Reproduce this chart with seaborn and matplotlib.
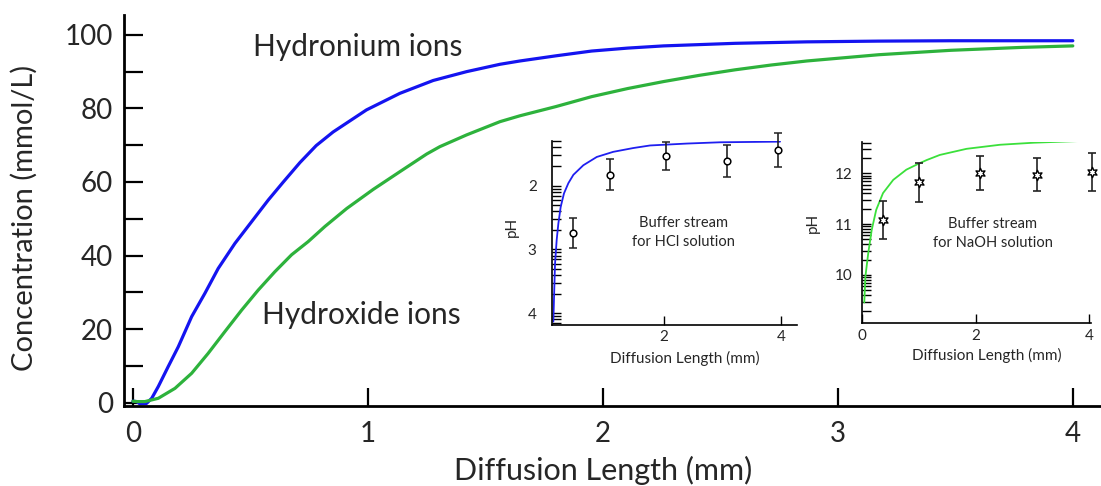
import numpy as np
import pandas as pd
import matplotlib
matplotlib.use("Agg")
import matplotlib.pyplot as plt
from matplotlib.ticker import FixedLocator, NullFormatter
import seaborn as sns

# ---- main panel: concentration profiles across the channel ----
h3o_len = [0.0, 0.017, 0.030, 0.058, 0.080, 0.108, 0.150, 0.193, 0.250, 0.306,
           0.363, 0.434, 0.505, 0.576, 0.640, 0.711, 0.780, 0.852, 0.994, 1.136,
           1.278, 1.420, 1.562, 1.647, 1.800, 1.952, 2.105, 2.258, 2.563, 2.868,
           3.174, 3.480, 4.0]
hydronium = [0.4, 0.3, -0.35, -0.2, 1.2, 4.4, 9.8, 15.2, 23.4, 29.7,
             36.5, 43.3, 49.2, 55.1, 60.0, 65.3, 69.9, 73.6, 79.6, 84.1,
             87.6, 90.0, 92.0, 92.9, 94.3, 95.6, 96.4, 97.0, 97.7, 98.1,
             98.3, 98.4, 98.4]

oh_len = [0.0, 0.017, 0.051, 0.108, 0.179, 0.250, 0.320, 0.391, 0.463, 0.533,
          0.604, 0.675, 0.746, 0.817, 0.910, 1.023, 1.136, 1.250, 1.306, 1.420,
          1.562, 1.647, 1.800, 1.952, 2.105, 2.258, 2.411, 2.563, 2.716, 2.868,
          3.174, 3.480, 3.785, 4.0]
hydroxide = [0.4, 0.3, 0.3, 1.2, 3.9, 8.0, 13.4, 19.3, 25.2, 30.6,
             35.6, 40.2, 43.8, 47.9, 52.8, 58.0, 62.8, 67.6, 69.6, 72.8,
             76.4, 78.0, 80.5, 83.2, 85.4, 87.3, 89.0, 90.5, 91.8, 92.9,
             94.6, 95.8, 96.6, 97.0]

# ---- inset 1: pH of buffer stream next to HCl ----
hcl_len = [0.108, 0.12, 0.137, 0.165, 0.194, 0.234, 0.29, 0.365, 0.45, 0.62,
           0.85, 1.13, 1.475, 1.76, 2.39, 2.96, 3.98]
hcl_ph = [4.13, 3.74, 3.22, 2.85, 2.59, 2.33, 2.12, 1.96, 1.83, 1.68,
          1.55, 1.47, 1.41, 1.37, 1.34, 1.32, 1.31]
hcl_meas_len = [0.44, 1.08, 2.03, 3.08, 3.94]
hcl_meas_ph = [2.74, 1.83, 1.53, 1.62, 1.44]
hcl_meas_err = [0.235, 0.245, 0.22, 0.25, 0.265]

# ---- inset 2: pH of buffer stream next to NaOH ----
naoh_len = [0.04, 0.06, 0.11, 0.17, 0.25, 0.37, 0.55, 0.78, 1.0, 1.14, 1.37,
            1.84, 2.43, 3.02, 3.99]
naoh_ph = [9.46, 9.97, 10.43, 10.88, 11.28, 11.61, 11.87, 12.07, 12.19, 12.26, 12.36,
           12.48, 12.56, 12.60, 12.64]
naoh_meas_len = [0.37, 1.00, 2.08, 3.08, 4.04]
naoh_meas_ph = [11.08, 11.82, 12.00, 11.97, 12.03]
naoh_meas_err = [0.38, 0.39, 0.33, 0.32, 0.37]

main_xticks = [0, 1, 2, 3, 4]
main_yticks = [0, 20, 40, 60, 80, 100]

sns.set_theme(style="white")
plt.rcParams["font.family"] = ["Lato", "DejaVu Sans"]

fig = plt.figure(figsize=(11.01, 4.86), dpi=100)

# main axes
ax = fig.add_axes([124 / 1101, 80 / 486, 977 / 1101, 391 / 486])
h3o_df = pd.DataFrame({"length": h3o_len, "conc": hydronium})
oh_df = pd.DataFrame({"length": oh_len, "conc": hydroxide})
sns.lineplot(data=h3o_df, x="length", y="conc", ax=ax, color="#1414f0", lw=2.3)
sns.lineplot(data=oh_df, x="length", y="conc", ax=ax, color="#2db23c", lw=2.3)

ax.set_xlim(-0.038, 4.12)
ax.set_ylim(-0.9, 105.4)
ax.set_xticks(main_xticks)
ax.set_yticks(main_yticks)
ax.yaxis.set_minor_locator(FixedLocator([10, 30, 50, 70, 90]))
for side in ("top", "right"):
    ax.spines[side].set_visible(False)
for side in ("left", "bottom"):
    ax.spines[side].set_linewidth(2.0)
    ax.spines[side].set_color("black")
ax.tick_params(axis="y", which="both", direction="in", length=14, width=1.6,
               color="black", labelsize=20, pad=8, left=True)
ax.tick_params(axis="x", which="major", direction="in", length=13, width=1.6,
               color="black", labelsize=20, pad=11, bottom=True)
ax.set_xlabel("Diffusion Length (mm)", fontsize=22)
ax.set_ylabel("Concentration (mmol/L)", fontsize=21)
ax.xaxis.set_label_coords(0.49, -0.128)
ax.yaxis.set_label_coords(-0.088, 0.48)
ax.text(0.51, 96.7, "Hydronium ions", fontsize=21.5, ha="left", va="center")
ax.text(0.549, 23.8, "Hydroxide ions", fontsize=21.5, ha="left", va="center")


def style_inset(a, xlabel_xy, ylabel_xy, ypad):
    for side in ("top", "right"):
        a.spines[side].set_visible(False)
    for side in ("left", "bottom"):
        a.spines[side].set_linewidth(1.2)
        a.spines[side].set_color("black")
    a.patch.set_alpha(0)
    a.tick_params(axis="y", which="both", direction="in", length=6.5, width=1.0,
                  color="black", labelsize=11, pad=ypad, left=True)
    a.tick_params(axis="x", which="major", direction="in", length=6.5, width=1.0,
                  color="black", labelsize=11, pad=4, bottom=True)
    a.set_xlabel("Diffusion Length (mm)", fontsize=11)
    a.set_ylabel("pH", fontsize=11)
    a.xaxis.set_label_coords(*xlabel_xy)
    a.yaxis.set_label_coords(*ylabel_xy)


# HCl inset
ax1 = fig.add_axes([552 / 1101, 161.2 / 486, 245 / 1101, 183.8 / 486])
hcl_df = pd.DataFrame({"length": hcl_len, "pH": hcl_ph})
sns.lineplot(data=hcl_df, x="length", y="pH", ax=ax1, color="#1f1ff0", lw=1.3)
ax1.errorbar(hcl_meas_len, hcl_meas_ph, yerr=hcl_meas_err, fmt="o", ms=4.8,
             mfc="white", mec="black", mew=1.1, ecolor="#222222", elinewidth=1.2,
             capsize=3, capthick=1.2, clip_on=False, zorder=5)
ax1.set_xlim(0.085, 4.27)
ax1.set_ylim(4.18, 1.30)
ax1.set_xticks([2, 4])
ax1.set_yticks([2, 3, 4])
hcl_minor = [n - np.log10(k) for n in (2, 3, 4, 5) for k in range(2, 10)]
ax1.yaxis.set_minor_locator(FixedLocator([v for v in hcl_minor if 1.30 <= v <= 4.18]))
ax1.yaxis.set_minor_formatter(NullFormatter())
style_inset(ax1, (0.543, -0.14), (-0.135, 0.532), 11)
ax1.text(2.33, 2.74, "Buffer stream\nfor HCl solution", fontsize=10.5,
         ha="center", va="center", linespacing=1.45)

# NaOH inset
ax2 = fig.add_axes([862 / 1101, 163 / 486, 229 / 1101, 181.3 / 486])
naoh_df = pd.DataFrame({"length": naoh_len, "pH": naoh_ph})
sns.lineplot(data=naoh_df, x="length", y="pH", ax=ax2, color="#3be03b", lw=1.3)
ax2.errorbar(naoh_meas_len, naoh_meas_ph, yerr=naoh_meas_err, fmt="none",
             ecolor="#222222", elinewidth=1.2, capsize=3, capthick=1.2,
             clip_on=False, zorder=5)
sns.scatterplot(x=naoh_meas_len, y=naoh_meas_ph, ax=ax2, marker=(6, 1, 0), s=55,
                facecolor="white", edgecolor="black", linewidth=1.0, zorder=6,
                clip_on=False)
ax2.set_xlim(0, 4.03)
ax2.set_ylim(9.056, 12.62)
ax2.set_xticks([0, 2, 4])
ax2.set_yticks([10, 11, 12])
naoh_minor = [n + np.log10(k) for n in (9, 10, 11, 12) for k in range(2, 10)]
ax2.yaxis.set_minor_locator(FixedLocator([v for v in naoh_minor if 9.056 <= v <= 12.62]))
ax2.yaxis.set_minor_formatter(NullFormatter())
style_inset(ax2, (0.544, -0.135), (-0.183, 0.552), 7)
ax2.text(2.30, 10.82, "Buffer stream\nfor NaOH solution", fontsize=10.5,
         ha="center", va="center", linespacing=1.45)

fig.savefig("out.png", dpi=100)
